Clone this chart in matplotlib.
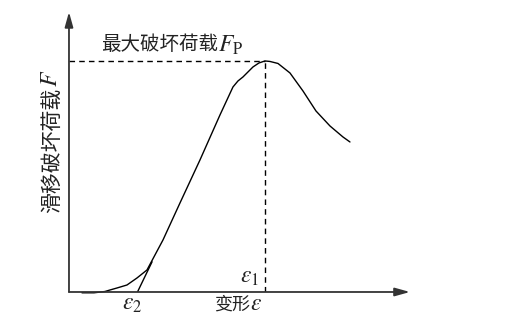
import matplotlib
matplotlib.use("Agg")
import matplotlib.pyplot as plt

plt.rcParams['font.family'] = ['Noto Sans CJK SC', 'DejaVu Serif']
plt.rcParams['mathtext.fontset'] = 'stix'

# load-deformation curve (arbitrary units)
deformation = [13, 25, 36, 41, 48, 58, 68, 78, 86, 94, 111, 131, 151, 164, 169, 174,
               179, 184, 190, 196, 201, 209, 221, 234, 247, 261, 274, 281]
load = [-0.8, -0.8, 0.5, 2, 4, 7, 14, 22, 37, 52, 89, 132, 177, 205, 211, 215,
        220, 225, 229, 231, 230.5, 228.5, 219, 201, 181, 166, 155, 150]

# tangent line at the initial linear stage, meeting the axis at eps2
tangent_x = [68.5, 83]
tangent_y = [0, 30]

eps1 = 196
eps2 = 68.5
peak_load = 231

fig = plt.figure(figsize=(5.05, 3.23), dpi=100)
ax = fig.add_axes([0.1366, 0.096, 0.6752, 0.867])
ax.set_xlim(0, 341)
ax.set_ylim(0, 280)
for s in ax.spines.values():
    s.set_visible(False)
ax.set_xticks([])
ax.set_yticks([])
ax.patch.set_alpha(0)

axis_color = '#333333'
text_color = '#222222'
# axes with arrow heads
ax.annotate('', xy=(1.0, 0), xytext=(0, 0), xycoords='axes fraction',
            arrowprops=dict(arrowstyle='-|>,head_length=0.9,head_width=0.25',
                            color=axis_color, lw=1.3, shrinkA=0, shrinkB=0))
ax.annotate('', xy=(0, 1.0), xytext=(0, 0), xycoords='axes fraction',
            arrowprops=dict(arrowstyle='-|>,head_length=0.9,head_width=0.25',
                            color=axis_color, lw=1.3, shrinkA=0, shrinkB=0))

ax.plot(deformation, load, color='black', lw=1.0, solid_capstyle='round',
        solid_joinstyle='round', clip_on=False)
ax.plot(tangent_x, tangent_y, color='black', lw=1.0)

# reference lines at the peak
ax.plot([0, eps1], [peak_load, peak_load], color='black', lw=1.0, ls=(0, (4, 3)))
ax.plot([eps1, eps1], [0, peak_load], color='black', lw=1.0, ls=(0, (4, 3)))

# peak load annotation
ax.text(149, 247, '最大破坏荷载', fontsize=14, ha='right', va='center', color=text_color)
ax.text(149, 247, '$F_{\\mathrm{P}}$', fontsize=17, ha='left', va='center', color=text_color)

# vertical axis title
ax.text(-17, 142, '滑移破坏荷载', fontsize=15, rotation=90, ha='center', va='center',
        color=text_color)
ax.text(-18, 213.5, '$F$', fontsize=17, rotation=90, ha='center', va='center',
        color=text_color)

# deformation markers
ax.text(181, 15, '$\\varepsilon_1$', fontsize=17, ha='center', va='center', color=text_color)
ax.text(63, -12, '$\\varepsilon_2$', fontsize=17, ha='center', va='center', color=text_color)

# horizontal axis title
ax.text(163, -13, '变形', fontsize=13, ha='center', va='center', color=text_color)
ax.text(187, -12, '$\\varepsilon$', fontsize=17, ha='center', va='center', color=text_color)

fig.savefig('out.png', dpi=100)
